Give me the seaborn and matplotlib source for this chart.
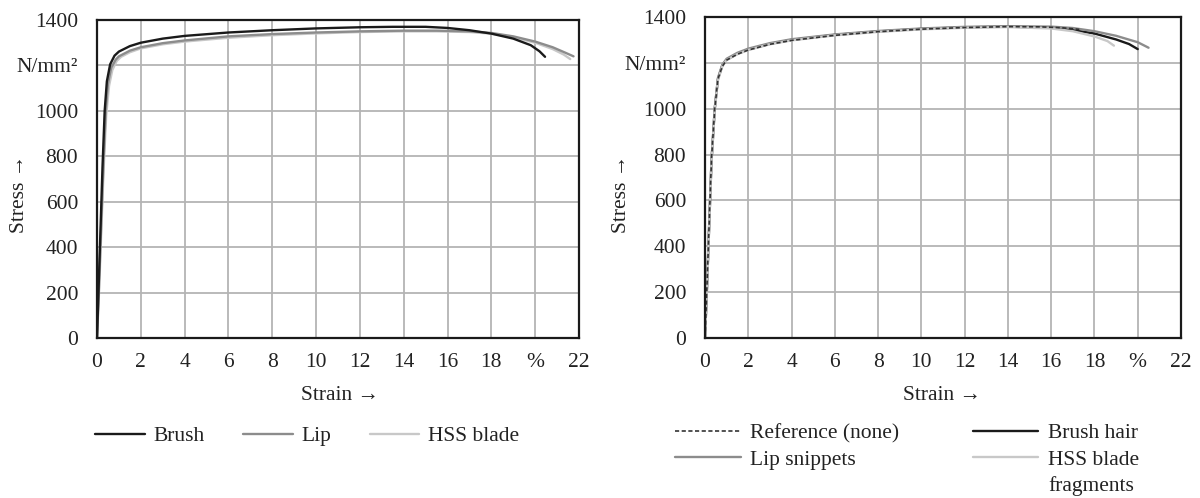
import matplotlib
matplotlib.use("Agg")
import matplotlib.pyplot as plt
import seaborn as sns
import pandas as pd
from matplotlib.lines import Line2D

# ---------------- data ----------------
# Left panel
brush_strain = [0, 0.05, 0.15, 0.25, 0.35, 0.45, 0.6, 0.8, 1.0, 1.5, 2.0, 3.0, 4.0, 6.0, 8.0,
                10.0, 12.0, 13.5, 15.0, 16.0, 17.0, 18.0, 19.0, 19.8, 20.2, 20.45]
brush_stress = [0, 150, 450, 750, 1000, 1130, 1205, 1243, 1261, 1285, 1300, 1318, 1330, 1345, 1355,
                1363, 1368, 1370, 1370, 1365, 1355, 1340, 1318, 1289, 1262, 1238]
lip_strain = [0, 0.1, 0.2, 0.3, 0.4, 0.5, 0.65, 0.85, 1.0, 1.5, 2.0, 3.0, 4.0, 6.0, 8.0,
              10.0, 12.0, 14.0, 15.5, 17.0, 18.0, 19.0, 20.0, 20.8, 21.4, 21.75]
lip_stress = [0, 250, 520, 780, 1000, 1120, 1190, 1225, 1240, 1265, 1280, 1298, 1310, 1328, 1338,
              1345, 1350, 1353, 1353, 1350, 1343, 1328, 1305, 1280, 1255, 1240]
hss_strain = [0, 0.1, 0.2, 0.3, 0.42, 0.55, 0.7, 0.9, 1.1, 1.5, 2.0, 3.0, 4.0, 6.0, 8.0,
              10.0, 12.0, 14.0, 15.5, 17.0, 18.0, 19.0, 20.0, 20.8, 21.3, 21.6]
hss_stress = [0, 220, 480, 740, 980, 1110, 1180, 1220, 1238, 1258, 1275, 1293, 1305, 1322, 1333,
              1341, 1347, 1350, 1350, 1347, 1340, 1324, 1300, 1272, 1248, 1228]

# Right panel
ref_strain = [0, 0.1, 0.2, 0.3, 0.45, 0.6, 0.8, 1.0, 1.5, 2.0, 3.0, 4.0, 6.0, 8.0, 10.0,
              12.0, 14.0, 15.5, 16.5, 17.3]
ref_stress = [0, 250, 520, 780, 1000, 1130, 1185, 1212, 1238, 1256, 1281, 1298, 1320, 1336, 1347,
              1354, 1358, 1357, 1353, 1346]
hair_strain = [0, 0.1, 0.2, 0.3, 0.45, 0.6, 0.8, 1.0, 1.5, 2.0, 3.0, 4.0, 6.0, 8.0, 10.0,
               12.0, 14.0, 16.0, 17.0, 18.0, 19.0, 19.6, 20.0]
hair_stress = [0, 240, 510, 770, 1000, 1130, 1188, 1214, 1240, 1258, 1283, 1300, 1322, 1337, 1348,
               1355, 1358, 1353, 1343, 1328, 1302, 1282, 1260]
snip_strain = [0, 0.1, 0.2, 0.3, 0.45, 0.6, 0.8, 1.0, 1.5, 2.0, 3.0, 4.0, 6.0, 8.0, 10.0,
               12.0, 14.0, 16.0, 17.0, 18.0, 19.0, 20.0, 20.5]
snip_stress = [0, 245, 515, 775, 1000, 1135, 1192, 1218, 1244, 1262, 1286, 1303, 1324, 1339, 1350,
               1357, 1360, 1358, 1352, 1338, 1318, 1290, 1266]
frag_strain = [0, 0.1, 0.2, 0.3, 0.45, 0.6, 0.8, 1.0, 1.5, 2.0, 3.0, 4.0, 6.0, 8.0, 10.0,
               12.0, 14.0, 16.0, 17.0, 18.0, 18.6, 18.9]
frag_stress = [0, 235, 505, 765, 995, 1125, 1185, 1212, 1238, 1256, 1281, 1298, 1320, 1335, 1346,
               1353, 1356, 1350, 1338, 1315, 1295, 1275]

x_ticks = [0, 2, 4, 6, 8, 10, 12, 14, 16, 18, 20, 22]
x_tick_labels = ["0", "2", "4", "6", "8", "10", "12", "14", "16", "18", "%", "22"]
y_ticks = [0, 200, 400, 600, 800, 1000, 1200, 1400]
y_tick_labels = ["0", "200", "400", "600", "800", "1000", "N/mm²", "1400"]

# ---------------- style ----------------
sns.set_theme(style="white")
FONT = ["Liberation Serif", "DejaVu Serif"]
plt.rcParams["font.family"] = FONT
plt.rcParams["axes.unicode_minus"] = False
FS = 15.5
LW = 1.7

C_BLACK = "#1a1a1a"
C_MID = "#8c8c8c"
C_LIGHT = "#c8c8c8"
C_REF = "#333333"
C_GRID = "#b4b4b4"
C_TXT = "#222222"

fig = plt.figure(figsize=(12, 4.98), dpi=100)
W, H = 1200, 498


def ax_rect(x0, x1, ytop, ybot):
    return [x0 / W, 1 - ybot / H, (x1 - x0) / W, (ybot - ytop) / H]


axL = fig.add_axes(ax_rect(97, 579, 20, 338))
axR = fig.add_axes(ax_rect(705, 1181, 17, 338))


def draw(ax, x, y, color, lw=LW, ls="-", z=2):
    df = pd.DataFrame({"strain": x, "stress": y})
    sns.lineplot(data=df, x="strain", y="stress", ax=ax, color=color, lw=lw,
                 linestyle=ls, sort=False, estimator=None, zorder=z, legend=False)


draw(axL, hss_strain, hss_stress, C_LIGHT, z=3)
draw(axL, lip_strain, lip_stress, C_MID, z=4)
draw(axL, brush_strain, brush_stress, C_BLACK, z=5)

draw(axR, hair_strain, hair_stress, C_BLACK, z=3)
draw(axR, snip_strain, snip_stress, C_MID, z=4)
draw(axR, frag_strain, frag_stress, C_LIGHT, z=5)
draw(axR, ref_strain, ref_stress, C_REF, lw=1.2, ls=(0, (2.5, 1.5)), z=6)

for ax in (axL, axR):
    ax.set_xlim(0, 22)
    ax.set_ylim(0, 1400)
    ax.set_xticks(x_ticks)
    ax.set_xticklabels(x_tick_labels, fontsize=FS)
    ax.set_yticks(y_ticks)
    ax.set_yticklabels(y_tick_labels, fontsize=FS)
    ax.tick_params(axis="both", length=0, colors=C_TXT)
    ax.tick_params(axis="x", pad=11)
    ax.tick_params(axis="y", pad=13.5)
    ax.grid(True, color=C_GRID, lw=1.3, zorder=0)
    ax.set_axisbelow(True)
    ax.set_xlabel("")
    ax.set_ylabel("")
    for s in ax.spines.values():
        s.set_color("#1a1a1a")
        s.set_linewidth(1.6)
        s.set_zorder(10)

# axis titles
fig.text(20 / W, 1 - 194 / H, "Stress →", rotation=90, ha="center", va="center",
         fontsize=FS, color=C_TXT)
fig.text(622 / W, 1 - 194 / H, "Stress →", rotation=90, ha="center", va="center",
         fontsize=FS, color=C_TXT)
fig.text(340 / W, 1 - 395 / H, "Strain →", ha="center", va="center", fontsize=FS, color=C_TXT)
fig.text(942 / W, 1 - 395 / H, "Strain →", ha="center", va="center", fontsize=FS, color=C_TXT)

# legends
hL = [Line2D([], [], color=C_BLACK, lw=LW),
      Line2D([], [], color=C_MID, lw=LW),
      Line2D([], [], color=C_LIGHT, lw=LW)]
legL = fig.legend(hL, ["Brush", "Lip", "HSS blade"], loc="center left",
                  bbox_to_anchor=(95 / W, 1 - 436 / H), ncol=3, frameon=False,
                  fontsize=FS, handlelength=2.3, handletextpad=0.4, columnspacing=1.8,
                  borderpad=0, borderaxespad=0)

hR = [Line2D([], [], color=C_REF, lw=1.2, ls=(0, (2.5, 1.5))),
      Line2D([], [], color=C_MID, lw=LW),
      Line2D([], [], color=C_BLACK, lw=LW),
      Line2D([], [], color=C_LIGHT, lw=LW)]
legR = fig.legend(hR, ["Reference (none)", "Lip snippets", "Brush hair", "HSS blade"],
                  loc="upper left", bbox_to_anchor=(675 / W, 1 - 423 / H), ncol=2,
                  frameon=False, fontsize=FS, handlelength=3.05, handletextpad=0.45,
                  columnspacing=3.4, labelspacing=0.3, borderpad=0, borderaxespad=0)
for leg in (legL, legR):
    for t in leg.get_texts():
        t.set_color(C_TXT)

# continuation line of the last legend label ("HSS blade / fragments")
fig.canvas.draw()
last = legR.get_texts()[-1]
bb = last.get_window_extent()
fig.text(bb.x0 / W, (bb.y0 - 26) / H, "fragments", ha="left", va="bottom",
         fontsize=FS, color=C_TXT)

fig.savefig("out.png", dpi=100)
